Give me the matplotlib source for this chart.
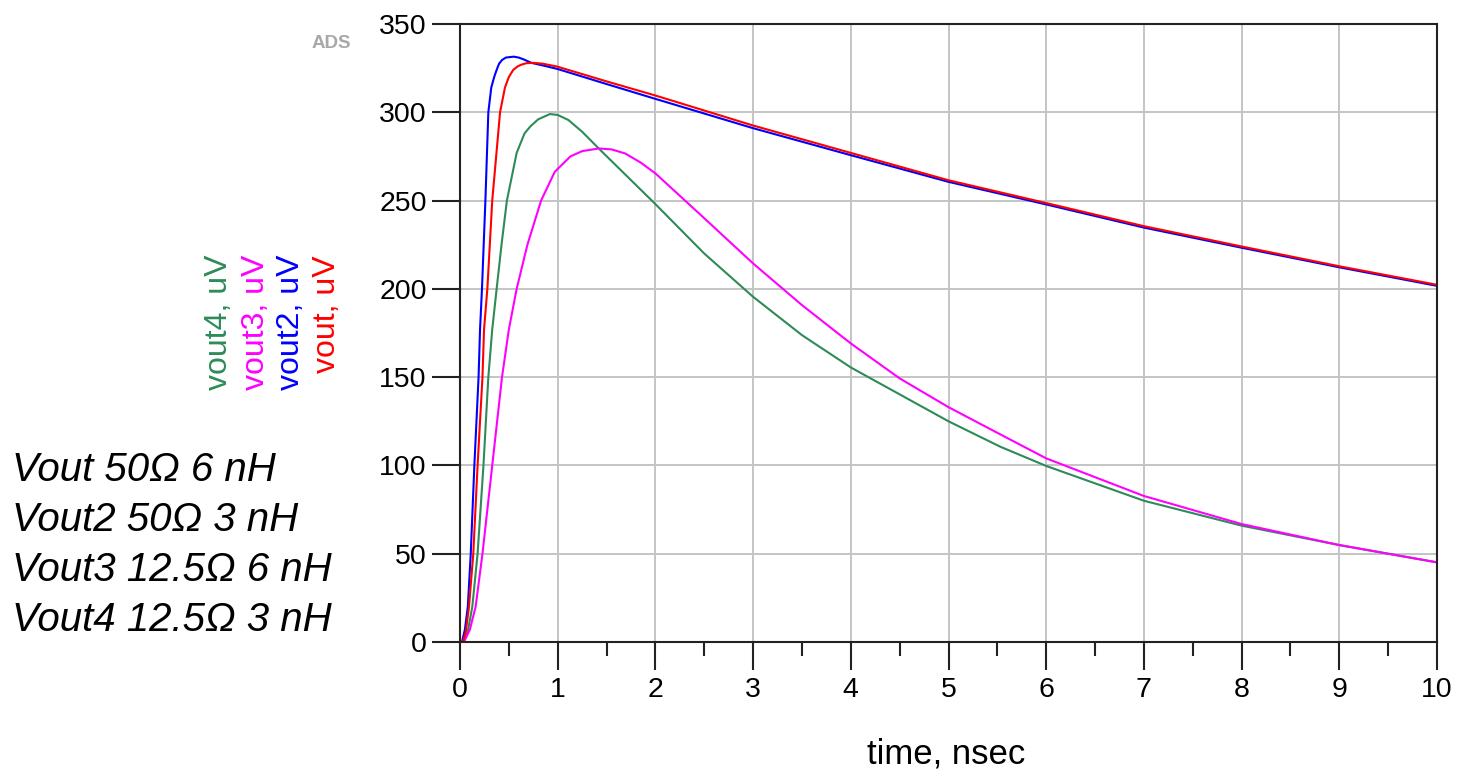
import matplotlib as mpl
import matplotlib.pyplot as plt

mpl.use('Agg')
plt.rcParams['font.family'] = ['Liberation Sans', 'DejaVu Sans']

# values (time in ns, voltage in uV)
t_vout = [0.0, 0.03, 0.06, 0.092, 0.136, 0.18, 0.23, 0.246, 0.28, 0.33, 0.41, 0.46, 0.5,
          0.545, 0.59, 0.63, 0.68, 0.75, 0.85, 1.0, 1.5, 2.0, 3.0, 4.0, 5.0, 6.0, 7.0, 8.0, 9.0, 10.0]
vout = [0, 0, 6, 20, 50, 100, 150, 177, 200, 250, 300, 314, 320,
        324, 326, 327, 327.8, 328, 327.5, 325.8, 317.5, 309.5, 292.5, 277, 261.5, 248.6, 235.5, 224, 212.8, 202.3]

t_vout2 = [0.0, 0.02, 0.05, 0.08, 0.11, 0.147, 0.19, 0.205, 0.225, 0.26, 0.29, 0.32, 0.35,
           0.375, 0.4, 0.43, 0.47, 0.55, 0.6, 0.65, 0.73, 0.85, 1.0, 1.5, 2.0, 3.0, 4.0, 5.0, 6.0, 7.0,
           8.0, 9.0, 10.0]
vout2 = [0, 0, 7, 20, 50, 100, 150, 177, 200, 250, 300, 314, 320,
         324, 327.5, 329.6, 331, 331.5, 331, 330, 328, 326.5, 324.5, 316, 307.6, 291, 275.7, 260.6, 247.8, 234.7,
         223.3, 212.2, 201.7]

t_vout3 = [0.0, 0.04, 0.1, 0.16, 0.23, 0.33, 0.43, 0.5, 0.58, 0.69, 0.83, 0.97, 1.13, 1.25,
           1.42, 1.55, 1.69, 1.85, 2.0, 2.5, 3.0, 3.5, 4.0, 4.5, 5.0, 5.53, 6.0, 7.0, 8.0, 9.0, 10.0]
vout3 = [0, 0, 6.8, 20, 50, 100, 150, 177, 200, 225, 250, 266.3, 275, 278,
         279.5, 279, 276.7, 271.5, 265.4, 240, 214.4, 190.8, 169.1, 149.3, 133, 117.6, 104, 82.7, 66.8, 54.9, 45.1]

t_vout4 = [0.0, 0.04, 0.08, 0.126, 0.18, 0.24, 0.29, 0.33, 0.375, 0.425, 0.48, 0.58, 0.66, 0.72,
           0.8, 0.92, 1.0, 1.11, 1.25, 1.42, 2.0, 2.5, 3.0, 3.5, 4.0, 5.0, 5.53, 6.0, 7.0, 8.0, 9.0, 10.0]
vout4 = [0, 0, 6, 20, 50, 100, 150, 177, 200, 225, 250, 277, 288, 292,
         296, 299, 298.5, 295.6, 289, 279.5, 248, 220, 195.5, 173.8, 155.5, 125, 110.6, 99.7, 80, 65.9, 54.9, 45.1]

series = [
    (t_vout4, vout4, '#2e8b57', 'vout4, uV'),
    (t_vout3, vout3, '#ff00ff', 'vout3, uV'),
    (t_vout2, vout2, '#0000ff', 'vout2, uV'),
    (t_vout, vout, '#ff0000', 'vout, uV'),
]

legend_lines = ['Vout 50\u03a9 6 nH', 'Vout2 50\u03a9 3 nH',
                'Vout3 12.5\u03a9 6 nH', 'Vout4 12.5\u03a9 3 nH']

W, H = 1457, 771
fig = plt.figure(figsize=(W / 100, H / 100), dpi=100)
ax = fig.add_axes([460 / W, 1 - 642 / H, (1437 - 460) / W, (642 - 24) / H])

for t, v, c, lab in series:
    ax.plot(t, v, color=c, lw=1.5)

ax.set_xlim(0, 10)
ax.set_ylim(0, 350)
ax.set_xticks(range(0, 11))
ax.set_xticks([i + 0.5 for i in range(10)], minor=True)
ax.set_yticks(range(0, 351, 50))
ax.grid(True, which='major', color='#c4c4c4', lw=1.4)
ax.set_axisbelow(True)
for s in ax.spines.values():
    s.set_linewidth(1.5)
    s.set_color('#222222')
ax.tick_params(which='major', length=20, width=1.5, labelsize=20.5, pad=4, color='#222222')
ax.tick_params(which='minor', length=10, width=1.5, color='#222222')
ax.tick_params(axis='x', which='major', pad=5)

# coloured y-axis labels, one per trace
for (t, v, c, lab), xp in zip(series, [219, 256, 291, 327]):
    fig.text(xp / W, 1 - 255 / H, lab, color=c, rotation=90, ha='center', va='top', fontsize=23)

fig.text(946 / W, 1 - 763 / H, 'time, nsec', ha='center', va='baseline', fontsize=25)
fig.text(331 / W, 1 - 44 / H, 'ADS', ha='center', va='center', fontsize=13.5,
         color='#a8a8a8', fontweight='bold')

for i, line in enumerate(legend_lines):
    fig.text(12 / W, 1 - (481 + 50 * i) / H, line, ha='left', va='baseline',
             fontsize=29, style='italic')

plt.savefig('out.png', dpi=100)
